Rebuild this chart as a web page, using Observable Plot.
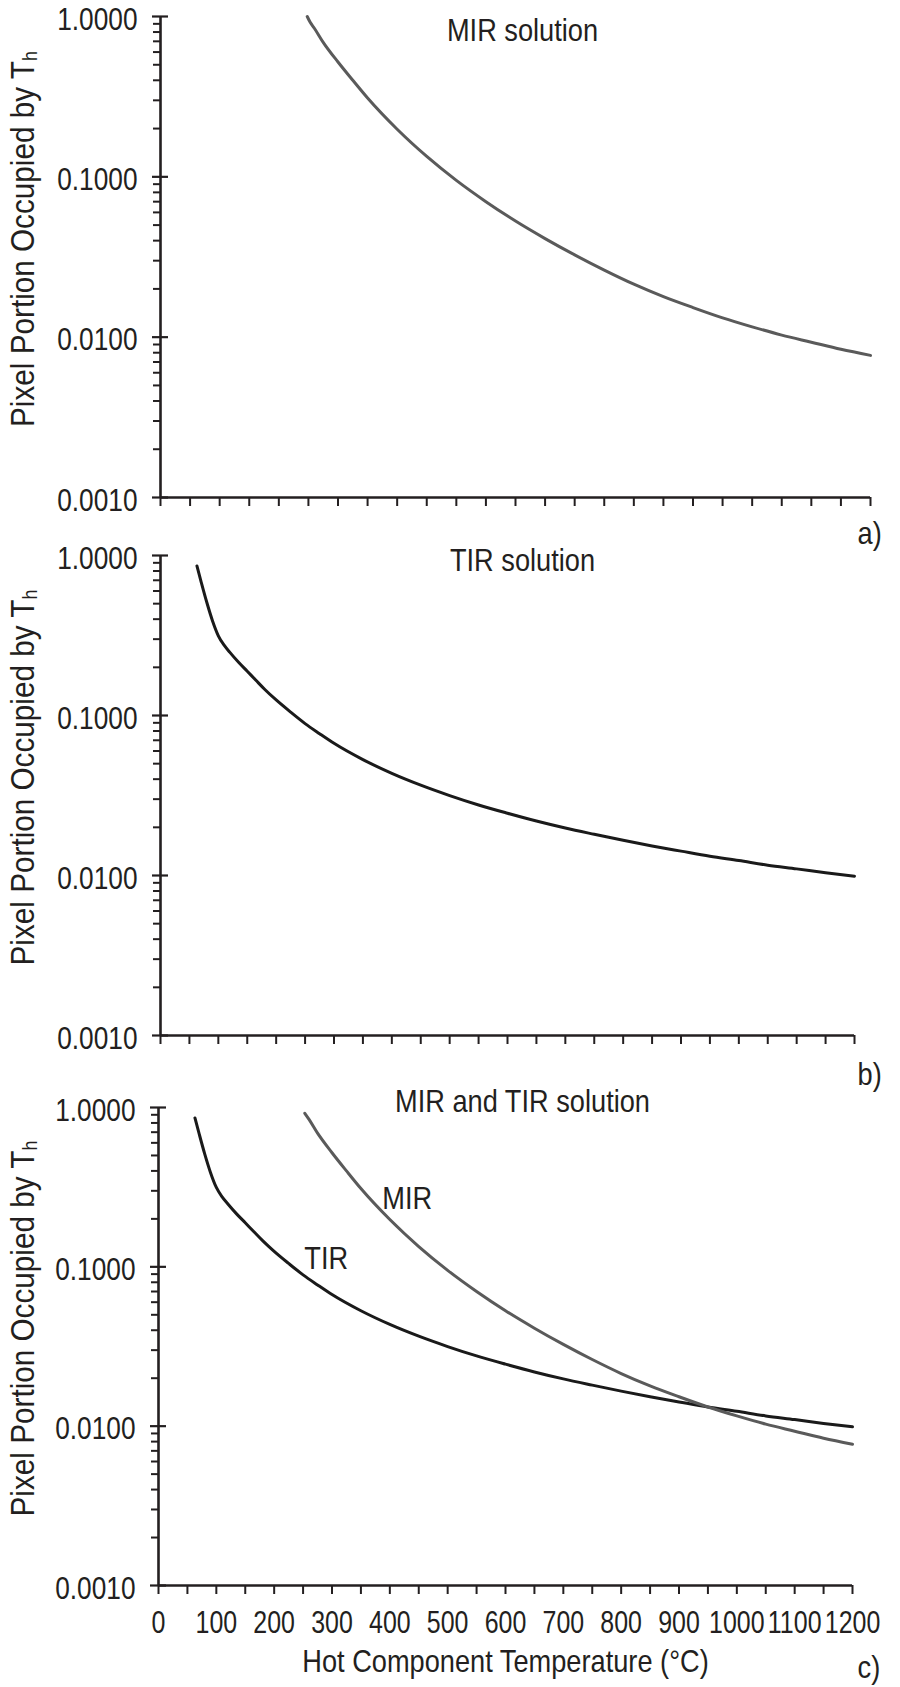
<!DOCTYPE html>
<html>
<head>
<meta charset="utf-8">
<script src="https://cdn.jsdelivr.net/npm/d3@7"></script>
<script src="https://cdn.jsdelivr.net/npm/@observablehq/plot@0.6"></script>
<style>
  html, body { margin: 0; padding: 0; background: #fff; }
  #chart { position: relative; width: 900px; height: 1687px; overflow: hidden; }
  #chart svg { position: absolute; left: 0; overflow: visible; }
</style>
</head>
<body>
<div id="chart"></div>
<script>
// ---- data ----
const mirTemp  = [248, 253, 260, 275, 300, 325, 350, 400, 450, 500, 550, 600, 650, 700, 750, 800, 850, 900, 950, 1000, 1050, 1100, 1150, 1200];
const mirValue = [1.0, 0.92, 0.845, 0.69, 0.52, 0.40, 0.31, 0.198, 0.134, 0.095, 0.070, 0.053, 0.0412, 0.0326, 0.0262, 0.0214, 0.0179, 0.0153, 0.0132, 0.0116, 0.0103, 0.0093, 0.0084, 0.0077];

const tirTemp  = [63, 70, 80, 90, 100, 110, 120, 135, 150, 165, 180, 200, 225, 250, 275, 300, 350, 400, 450, 500, 550, 600, 650, 700, 750, 800, 850, 900, 950, 1000, 1050, 1100, 1150, 1200];
const tirValue = [0.86, 0.69, 0.51, 0.39, 0.315, 0.275, 0.248, 0.215, 0.189, 0.166, 0.146, 0.125, 0.105, 0.089, 0.077, 0.067, 0.053, 0.0435, 0.0367, 0.0316, 0.0276, 0.0245, 0.0219, 0.0198, 0.0181, 0.0166, 0.0153, 0.0142, 0.0132, 0.0124, 0.0116, 0.0110, 0.0104, 0.0099];

const mirStartPanelC = 253;

const xDomain = [0, 1200];
const yDomain = [0.001, 1];
const xTickLabels = [0, 100, 200, 300, 400, 500, 600, 700, 800, 900, 1000, 1100, 1200];
const xMinorTicks = [0, 50, 100, 150, 200, 250, 300, 350, 400, 450, 500, 550, 600, 650, 700, 750, 800, 850, 900, 950, 1000, 1050, 1100, 1150, 1200];
const yMajorTicks = [0.001, 0.01, 0.1, 1];
const yMinorTicks = [0.002, 0.003, 0.004, 0.005, 0.006, 0.007, 0.008, 0.009,
                     0.02, 0.03, 0.04, 0.05, 0.06, 0.07, 0.08, 0.09,
                     0.2, 0.3, 0.4, 0.5, 0.6, 0.7, 0.8, 0.9];

const panelTitles = ["MIR solution", "TIR solution", "MIR and TIR solution"];
const panelLetters = ["a)", "b)", "c)"];
const yLabel = "Pixel Portion Occupied by Th";
const xLabel = "Hot Component Temperature (°C)";
const curveLabelText = ["MIR", "TIR"];
const curveLabelTemp = [430, 290];
const curveLabelValue = [0.232, 0.0975];

// ---- build tables ----
const mir = mirTemp.map((t, i) => ({t, v: mirValue[i]}));
const tir = tirTemp.map((t, i) => ({t, v: tirValue[i]}));
const curveLabels = curveLabelText.map((label, i) => ({label, t: curveLabelTemp[i], v: curveLabelValue[i]}));

const FONT = "'Liberation Sans', Arial, Helvetica, sans-serif";
const INK = "#231f20";
const MIR_COLOR = "#5a5a5a";
const TIR_COLOR = "#1a1a1a";

const panels = [
  {top: 0,    height: 548, mt: 16, mb: 51,  ml: 160, mr: 30,
   titleDx: 7,  titleDy: 24, letterDx: -13, letterDy: 46,
   series: [{data: mir, color: MIR_COLOR}], xLabels: false},
  {top: 548,  height: 548, mt: 7,  mb: 61,  ml: 160, mr: 46,
   titleDx: 15, titleDy: 15, letterDx: 3,   letterDy: 49,
   series: [{data: tir, color: TIR_COLOR}], xLabels: false},
  {top: 1096, height: 591, mt: 11, mb: 102, ml: 158, mr: 48,
   titleDx: 17, titleDy: 4,  letterDx: 5,   letterDy: 92,
   series: [{data: tir, color: TIR_COLOR}, {data: mir.filter(d => d.t >= mirStartPanelC), color: MIR_COLOR}], xLabels: true}
];

const chart = document.getElementById("chart");

// horizontal condensation per kind of text (the reference uses a condensed face)
function narrowFactor(s) {
  if (s.startsWith("Pixel")) return 0.9;
  if (/^\d+$/.test(s)) return 0.78;
  if (/^\d\.\d+$/.test(s)) return 0.82;
  return 0.85;
}

panels.forEach((p, i) => {
  const marks = [
    Plot.axisY(yMinorTicks, {anchor: "left", tickSize: 7, tickFormat: () => "", stroke: INK, strokeWidth: 2, label: null}),
    Plot.axisY(yMajorTicks, {anchor: "left", tickSize: 16, dx: 8, tickFormat: () => "", stroke: INK, strokeWidth: 2.2, label: null}),
    Plot.axisY(yMajorTicks, {anchor: "left", tickSize: 0, tickPadding: 23, dy: 3, tickFormat: d3.format(".4f"), fill: INK, fontSize: 32, label: null}),
    Plot.axisX(xMinorTicks, {anchor: "bottom", tickSize: 9, tickFormat: () => "", stroke: INK, strokeWidth: 2, label: null}),
    Plot.ruleX([xDomain[0]], {stroke: INK, strokeWidth: 2.6}),
    Plot.ruleY([yDomain[0]], {stroke: INK, strokeWidth: 2.6}),
    ...p.series.map(s => Plot.line(s.data, {x: "t", y: "v", stroke: s.color, strokeWidth: 3, curve: "monotone-x"})),
    Plot.text([panelTitles[i]], {frameAnchor: "top", dx: p.titleDx, dy: p.titleDy, lineAnchor: "bottom", fontSize: 32, fill: INK}),
    Plot.text([panelLetters[i]], {frameAnchor: "bottom-right", textAnchor: "start", dx: p.letterDx, dy: p.letterDy, lineAnchor: "bottom", fontSize: 32, fill: INK}),
    Plot.text([yLabel], {frameAnchor: "left", dx: -(p.ml - 33), dy: -18, rotate: -90, textAnchor: "middle", lineAnchor: "bottom", fontSize: 33, fill: INK})
  ];
  if (p.xLabels) {
    marks.push(Plot.axisX(xTickLabels, {anchor: "bottom", tickSize: 0, tickPadding: 25, tickFormat: d3.format("d"), fill: INK, fontSize: 32, label: null}));
    marks.push(Plot.text([xLabel], {frameAnchor: "bottom", dy: 86, lineAnchor: "bottom", fontSize: 32, fill: INK}));
    marks.push(Plot.text(curveLabels, {x: "t", y: "v", text: "label", textAnchor: "middle", lineAnchor: "bottom", fontSize: 32, fill: INK}));
  }
  const svg = Plot.plot({
    width: 900,
    height: p.height,
    marginTop: p.mt,
    marginBottom: p.mb,
    marginLeft: p.ml,
    marginRight: p.mr,
    style: {fontFamily: FONT, fontSize: "32px", color: INK, background: "transparent", overflow: "visible"},
    x: {domain: xDomain, axis: null},
    y: {type: "log", domain: yDomain, axis: null},
    marks
  });
  svg.style.top = p.top + "px";
  // subscript h in the y label
  svg.querySelectorAll("text").forEach(t => {
    if (t.textContent === yLabel) {
      t.textContent = yLabel.slice(0, -1);
      const sub = document.createElementNS("http://www.w3.org/2000/svg", "tspan");
      sub.setAttribute("font-size", "20");
      sub.setAttribute("dy", "3");
      sub.textContent = yLabel.slice(-1);
      t.appendChild(sub);
    }
  });
  chart.appendChild(svg);
  svg.querySelectorAll("text").forEach(t => {
    const len = t.getComputedTextLength();
    if (len > 0) {
      t.setAttribute("textLength", (len * narrowFactor(t.textContent)).toFixed(1));
      t.setAttribute("lengthAdjust", "spacingAndGlyphs");
    }
  });
});
</script>
</body>
</html>
